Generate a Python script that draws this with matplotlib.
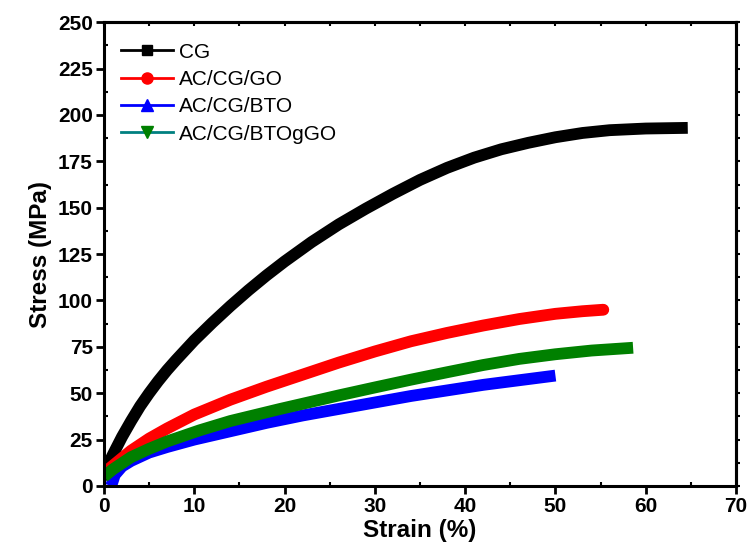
#!/usr/bin/env python3

"""
Stress-strain curves for the CG film and the three AC/CG composites.
"""

import matplotlib
matplotlib.use("Agg")
import matplotlib.pyplot as plt
from matplotlib.lines import Line2D
from matplotlib.ticker import MultipleLocator

plt.rcParams["font.family"] = ["Liberation Sans", "DejaVu Sans"]

# strain (%) / stress (MPa)
cg_strain = [0, 1, 2, 3, 4, 5, 6, 7, 8, 10, 12, 14, 16, 18, 20, 23, 26, 29, 32,
             35, 38, 41, 44, 47, 50, 53, 56, 60, 64]
cg_stress = [7, 17, 26.5, 35, 43, 50, 56.5, 62.5, 68, 78.5, 88, 97, 105.5, 113.5,
             121, 131.5, 141, 149.5, 157.5, 165, 171.5, 177, 181.5, 185, 188,
             190.3, 191.8, 192.7, 193]

go_strain = [0, 1, 3, 5, 7, 10, 14, 18, 22, 26, 30, 34, 38, 42, 46, 50, 53, 55.3]
go_stress = [7, 11, 19, 25.5, 31, 38.5, 46.5, 53.5, 60, 66.5, 72.5, 78, 82.5,
             86.5, 90, 92.8, 94.2, 95]

bto_strain = [0.8, 1.2, 2, 3, 5, 7, 10, 14, 18, 22, 26, 30, 34, 38, 42, 46, 50]
bto_stress = [0, 6, 10.5, 13.5, 18, 21, 25, 29.5, 34, 38, 41.5, 45, 48.5, 51.5,
              54.5, 57, 59.5]

btogo_strain = [0, 1, 3, 5, 7, 10.6, 14, 19.5, 22, 26, 30, 34, 38, 42, 46, 50,
                54, 58.6]
btogo_stress = [5, 9, 15.5, 20, 24, 30, 35, 41.5, 44.3, 48.8, 53.1, 57.3, 61.3,
                65.2, 68.5, 71, 73, 74.5]

labels = ["CG", "AC/CG/GO", "AC/CG/BTO", "AC/CG/BTOgGO"]

fig = plt.figure(figsize=(7.48, 5.56), dpi=100)
ax = fig.add_axes([0.139, 0.126, 0.845, 0.834])

lw = 8.5
ax.plot(cg_strain, cg_stress, color="black", lw=lw, solid_capstyle="projecting",
        solid_joinstyle="round")
ax.plot(go_strain, go_stress, color="red", lw=lw, solid_capstyle="round",
        solid_joinstyle="round")
ax.plot(btogo_strain, btogo_stress, color="green", lw=lw, solid_capstyle="butt",
        solid_joinstyle="round")
ax.plot(bto_strain, bto_stress, color="blue", lw=lw, solid_capstyle="butt",
        solid_joinstyle="round", zorder=1.9)

ax.set_xlim(0, 70)
ax.set_ylim(0, 250)
ax.xaxis.set_major_locator(MultipleLocator(10))
ax.xaxis.set_minor_locator(MultipleLocator(5))
ax.yaxis.set_major_locator(MultipleLocator(25))
ax.yaxis.set_minor_locator(MultipleLocator(12.5))

for sp in ax.spines.values():
    sp.set_linewidth(2.2)

ax.tick_params(which="major", direction="out", length=6, width=2, pad=2,
               labelsize=15)
ax.tick_params(which="minor", direction="in", length=3, width=1.5)
for lab in ax.get_xticklabels() + ax.get_yticklabels():
    lab.set_fontweight("bold")

# small ticks on the top and right frame
top = ax.secondary_xaxis("top")
top.xaxis.set_major_locator(MultipleLocator(5))
top.tick_params(direction="in", length=3, width=1.5, labeltop=False)
top.spines["top"].set_linewidth(2.2)
right = ax.secondary_yaxis("right")
right.yaxis.set_major_locator(MultipleLocator(12.5))
right.tick_params(direction="out", length=3, width=1.5, labelright=False)
right.spines["right"].set_linewidth(2.2)

ax.set_xlabel("Strain (%)", fontsize=17.5, fontweight="bold", labelpad=2)
ax.set_ylabel("Stress (MPa)", fontsize=17.5, fontweight="bold", labelpad=4)

handles = [
    Line2D([], [], color="black", lw=2, marker="s", ms=7),
    Line2D([], [], color="red", lw=2, marker="o", ms=8),
    Line2D([], [], color="blue", lw=2, marker="^", ms=8),
    Line2D([], [], color="teal", lw=2, marker="v", ms=8,
           markerfacecolor="green", markeredgecolor="green"),
]
ax.legend(handles, labels, loc="upper left", bbox_to_anchor=(0.013, 0.974),
          borderaxespad=0, frameon=False, fontsize=15, handlelength=2.5,
          handletextpad=0.3, labelspacing=0.4)

fig.savefig("out.png", dpi=100)
plt.close()
